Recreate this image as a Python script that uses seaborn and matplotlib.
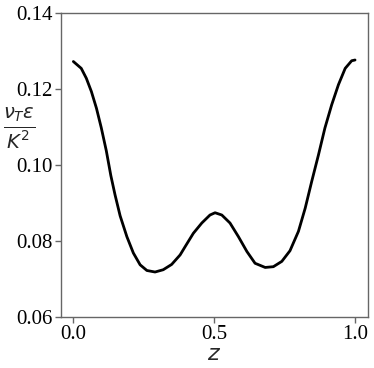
import numpy as np
import pandas as pd
import matplotlib.pyplot as plt
import seaborn as sns

# values
z = [0.0, 0.028, 0.046, 0.064, 0.082, 0.099, 0.117, 0.133, 0.148, 0.166,
     0.190, 0.213, 0.237, 0.261, 0.290, 0.319, 0.349, 0.379, 0.397, 0.426,
     0.456, 0.485, 0.503, 0.527, 0.556, 0.586, 0.616, 0.645, 0.681, 0.710,
     0.740, 0.769, 0.799, 0.823, 0.846, 0.870, 0.893, 0.917, 0.941, 0.965,
     0.988, 1.0]
nu = [0.1272, 0.1254, 0.1228, 0.1193, 0.1149, 0.1098, 0.1037, 0.0972, 0.0921, 0.0866,
      0.0811, 0.0768, 0.0737, 0.0722, 0.0718, 0.0724, 0.0738, 0.0763, 0.0785, 0.0820,
      0.0847, 0.0868, 0.0874, 0.0868, 0.0847, 0.0811, 0.0772, 0.0741, 0.0730, 0.0732,
      0.0746, 0.0774, 0.0825, 0.0886, 0.0956, 0.1026, 0.1097, 0.1158, 0.1211, 0.1254,
      0.1274, 0.1276]
xticks = [0.0, 0.5, 1.0]
yticks = [0.06, 0.08, 0.10, 0.12, 0.14]

df = pd.DataFrame({'z': z, 'nu': nu})

sns.set_style('ticks')
fig = plt.figure(figsize=(3.74, 3.68), dpi=100)
ax = fig.add_axes([0.163, 0.139, 0.821, 0.826])

sns.lineplot(data=df, x='z', y='nu', color='black', linewidth=2, ax=ax)

ax.set_xlim(-0.044, 1.046)
ax.set_ylim(0.06, 0.14)
ax.set_xticks(xticks)
ax.set_yticks(yticks)
ax.set_xticklabels([f'{t:.1f}' for t in xticks], family='Liberation Serif', fontsize=15)
ax.set_yticklabels([f'{t:.2f}' for t in yticks], family='Liberation Serif', fontsize=15)
for s in ax.spines.values():
    s.set_color('#666666')
    s.set_linewidth(1.0)
ax.tick_params(colors='#666666', labelcolor='black', length=4, width=1, pad=2)

ax.set_xlabel('$z$', fontsize=16, labelpad=0)
ax.set_ylabel(r'$\frac{\nu_T\epsilon}{K^2}$', fontsize=20, rotation=0, va='center')
ax.yaxis.set_label_coords(-0.135, 0.62)

fig.savefig('out.png', dpi=100)
